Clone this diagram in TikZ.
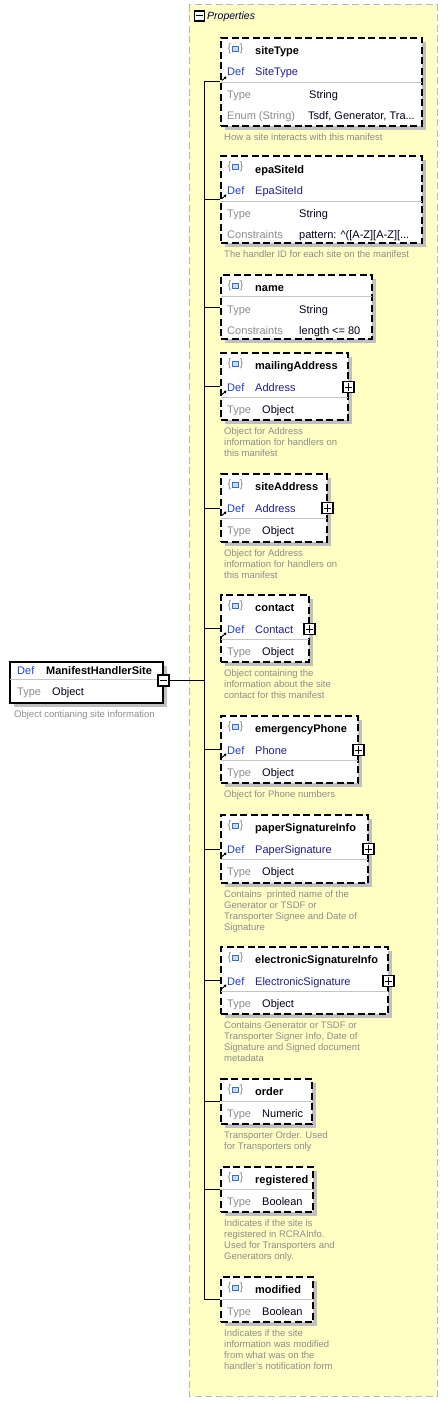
\documentclass[tikz,border=0pt]{standalone}
\usepackage{fontspec}
\setmainfont{Liberation Sans}
\usetikzlibrary{arrows.meta,fit}
\definecolor{yel}{HTML}{FFFFC4}
\definecolor{yelb}{HTML}{B8B8B8}
\definecolor{shd}{HTML}{C0C0C0}
\definecolor{defc}{HTML}{1F3FCF}
\definecolor{defv}{HTML}{241C8C}
\definecolor{lbl}{HTML}{8C8C8C}
\definecolor{dsc}{HTML}{8C8C8C}
\definecolor{sqb}{HTML}{2F6FD8}
\definecolor{sqf}{HTML}{C8DCF8}
\definecolor{divc}{HTML}{C4C4C4}
\tikzset{
 pbox/.style={draw=black, line width=1.3pt, dash pattern=on 7pt off 3.5pt, fill=white, inner sep=0pt},
 mbox/.style={draw=black, line width=1.3pt, fill=white, inner sep=0pt},
 tx/.style={anchor=base west, inner sep=0pt, font=\fontsize{11}{12}\selectfont, text=black!90!blue},
 nm/.style={tx, font=\fontsize{11}{12}\selectfont\bfseries, text=black},
 lb/.style={tx, text=lbl},
 df/.style={tx, text=defc},
 dv/.style={tx, text=defv},
 ds/.style={anchor=base west, inner sep=0pt, font=\fontsize{9.5}{11}\selectfont, text=dsc},
 pm/.style={draw=black, line width=1.1pt, fill=white, minimum size=11pt, inner sep=0pt},
 conn/.style={draw=black, line width=1pt},
 divl/.style={draw=divc, line width=0.9pt},
 arr/.style={-{Triangle[length=2.5pt,width=2.8pt]}, line width=0.9pt},
 brc/.style={inner sep=0pt, text=lbl, font=\fontsize{11}{12}\selectfont},
 sq/.style={draw=sqb, fill=sqf, line width=0.9pt, minimum width=5.5pt, minimum height=4.5pt, inner sep=0pt},
}
\newcommand\mkbox[4]{%
  \fill[shd] (225,#2+4) rectangle (#4+4,#3+4);
  \node[pbox, fit={(221,#2)(#4,#3)}] (#1) {};
}
\newcommand\mkicon[2]{%
  \node[brc] (#1-il) at (229.5,#2) {\{};
  \node[sq] (#1-is) at (235.5,#2) {};
  \node[brc] (#1-ir) at (241.5,#2) {\}};
}
\newcommand\mkplus[1]{%
  \draw[line width=0.9pt] ([xshift=2.5pt]#1.west) -- ([xshift=-2.5pt]#1.east);
  \draw[line width=0.9pt] ([yshift=-2.5pt]#1.north) -- ([yshift=2.5pt]#1.south);
}
\newcommand\mkdesc[3]{%
  \foreach \l [count=\i from 0] in {#3} {
    \node[ds] (#1-d\i) at (224,#2+14+\i*11) {\l};
  }
}
\newcommand\objbox[6]{%
  \mkbox{#1}{#2}{#3}{#4}
  \mkicon{#1}{#2+11}
  \node[nm] (#1-n) at (255,#2+16) {#5};
  \node[df] (#1-dl) at (227,#2+38) {Def};
  \node[dv] (#1-dv) at (255,#2+38) {#6};
  \draw[arr] (222,#2+41.5) -- (226.5,#2+37.5);
  \draw[divl] (221,#2+44) -- (#4,#2+44);
  \node[lb] (#1-tl) at (227,#2+60) {Type};
  \node[tx] (#1-tv) at (262,#2+60) {Object};
  \node[pm] (#1-p) at (#4+0.5,#2+34) {};
  \mkplus{#1-p}
}
\newcommand\smallbox[6]{%
  \mkbox{#1}{#2}{#3}{#4}
  \mkicon{#1}{#2+11}
  \node[nm] (#1-n) at (255,#2+16) {#5};
  \draw[divl] (221,#2+22) -- (#4,#2+22);
  \node[lb] (#1-tl) at (227,#2+38) {Type};
  \node[tx] (#1-tv) at (262,#2+38) {#6};
}
\begin{document}
\begin{tikzpicture}[x=1pt,y=-1pt]
\useasboundingbox (0,0) rectangle (447,1402);
% properties area
\draw[yelb, fill=yel, line width=1pt, dash pattern=on 7pt off 3.5pt] (189,5) rectangle (437,1396);
\node[draw=black, line width=1.1pt, fill=white, minimum size=10pt, inner sep=0pt] (propm) at (199.5,16) {};
\draw[line width=1pt] ([xshift=2.3pt]propm.west) -- ([xshift=-2.3pt]propm.east);
\node[anchor=base west, inner sep=0pt, font=\fontsize{10.5}{12}\selectfont\itshape, text=black!75!blue] (proptxt) at (207,20) {Properties};
\coordinate (sp) at (204,0);

% main element
\fill[shd] (14,666) rectangle (167,707);
\node[mbox, fit={(10,662)(163,703)}] (main) {};
\node[df] (main-dl) at (17,674) {Def};
\node[nm] (main-n) at (46,674) {ManifestHandlerSite};
\draw[divl] (10,679) -- (163,679);
\node[lb] (main-tl) at (17,695) {Type};
\node[tx] (main-tv) at (52,695) {Object};
\node[pm] (mhsm) at (163.5,680.5) {};
\draw[line width=0.9pt] ([xshift=2.5pt]mhsm.west) -- ([xshift=-2.5pt]mhsm.east);
\node[ds] (main-d0) at (14,717) {Object contianing site information};

% siteType
\mkbox{siteType}{38}{126}{422}
\mkicon{siteType}{49}
\node[nm] (siteType-n) at (255,55) {siteType};
\node[df] (siteType-dl) at (227,76) {Def};
\node[dv] (siteType-dv) at (255,76) {SiteType};
\draw[arr] (222,80.5) -- (226.5,76.5);
\draw[divl] (221,82) -- (422,82);
\node[lb] (siteType-tl) at (227,99) {Type};
\node[tx] (siteType-tv) at (309,99) {String};
\node[lb] (siteType-el) at (227,120) {Enum (String)};
\node[tx] (siteType-ev) at (308,120) {Tsdf, Generator, Tra...};
\mkdesc{siteType}{126}{How a site interacts with this manifest}

% epaSiteId
\mkbox{epaSiteId}{156}{243}{422}
\mkicon{epaSiteId}{167}
\node[nm] (epaSiteId-n) at (255,173) {epaSiteId};
\node[df] (epaSiteId-dl) at (227,194) {Def};
\node[dv] (epaSiteId-dv) at (255,194) {EpaSiteId};
\draw[arr] (222,198.5) -- (226.5,194.5);
\draw[divl] (221,201) -- (422,201);
\node[lb] (epaSiteId-tl) at (227,217) {Type};
\node[tx] (epaSiteId-tv) at (299,217) {String};
\node[lb] (epaSiteId-cl) at (227,238) {Constraints};
\node[tx] (epaSiteId-cv) at (299,238) {pattern: \textasciicircum([A-Z][A-Z][...};
\mkdesc{epaSiteId}{243}{The handler ID for each site on the manifest}

% name
\mkbox{name}{275}{339}{372}
\mkicon{name}{286}
\node[nm] (name-n) at (255,291) {name};
\draw[divl] (221,296) -- (372,296);
\node[lb] (name-tl) at (227,313) {Type};
\node[tx] (name-tv) at (299,313) {String};
\node[lb] (name-cl) at (227,334) {Constraints};
\node[tx] (name-cv) at (299,334) {length <= 80};

% object boxes
\objbox{mailingAddress}{353}{420}{348}{mailingAddress}{Address}
\mkdesc{mailingAddress}{420}{Object for Address,information for handlers on,this manifest}
\objbox{siteAddress}{474}{542}{327}{siteAddress}{Address}
\mkdesc{siteAddress}{542}{Object for Address,information for handlers on,this manifest}
\objbox{contact}{595}{662}{309}{contact}{Contact}
\mkdesc{contact}{662}{Object containing the,information about the site,contact for this manifest}
\objbox{emergencyPhone}{716}{783}{358}{emergencyPhone}{Phone}
\mkdesc{emergencyPhone}{783}{Object for Phone numbers}
\objbox{paperSig}{815}{883}{368}{paperSignatureInfo}{PaperSignature}
\mkdesc{paperSig}{883}{Contains \ printed name of the,Generator or TSDF or,Transporter Signee and Date of,Signature}
\objbox{elecSig}{947}{1014}{388}{electronicSignatureInfo}{ElectronicSignature}
\mkdesc{elecSig}{1014}{Contains Generator or TSDF or,{Transporter Signer Info, Date of},Signature and Signed document,metadata}

% simple boxes
\smallbox{order}{1079}{1124}{312}{order}{Numeric}
\mkdesc{order}{1124}{Transporter Order. Used,for Transporters only}
\smallbox{registered}{1167}{1212}{313}{registered}{Boolean}
\mkdesc{registered}{1212}{Indicates if the site is,registered in RCRAInfo.,Used for Transporters and,Generators only.}
\smallbox{modified}{1277}{1322}{313}{modified}{Boolean}
\mkdesc{modified}{1322}{Indicates if the site,information was modified,from what was on the,handler's notification form}

% connectors
\draw[conn] (sp |- siteType.west) -- (sp |- modified.west);
\draw[conn] (mhsm.east) -- (sp |- mhsm.east);
\foreach \b in {siteType,epaSiteId,name,mailingAddress,siteAddress,contact,emergencyPhone,paperSig,elecSig,order,registered,modified} {
  \draw[conn] (sp |- \b.west) -- (\b.west);
}
\end{tikzpicture}
\end{document}
